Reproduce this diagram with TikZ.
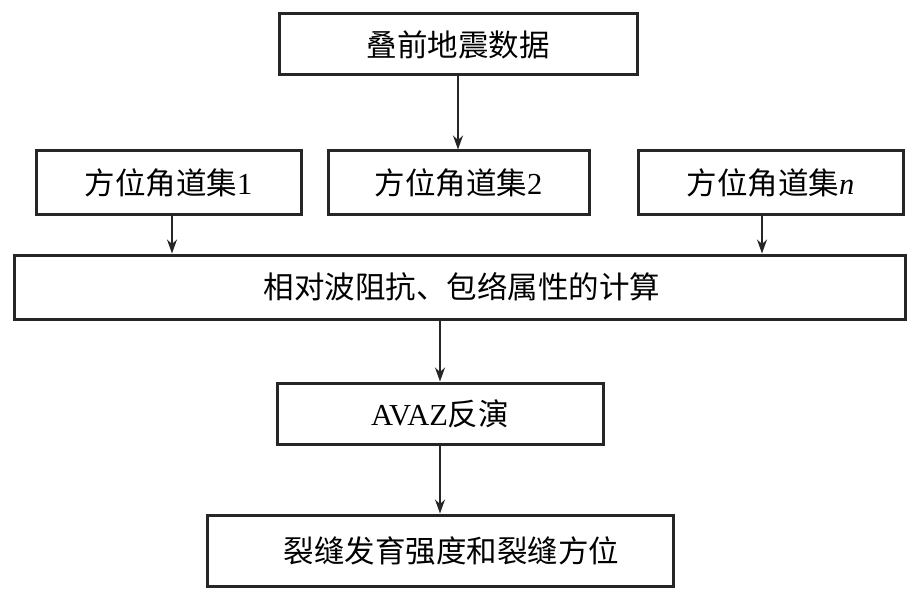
\documentclass[tikz,border=0pt]{standalone}
\usepackage{fontspec}
\setmainfont{Liberation Serif}
\newfontfamily\cjk{Noto Sans CJK SC}
\usetikzlibrary{arrows.meta}
\begin{document}
\begin{tikzpicture}[x=1pt,y=-1pt,
  box/.style={draw=black!85,line width=3pt,inner sep=0pt,fill=white,font=\fontsize{30.5}{32}\selectfont},
  arr/.style={draw=black!85,line width=1.7pt,-{Stealth[length=14pt,width=10pt]}}]
\useasboundingbox (0,0) rectangle (921,607);
\node[box,minimum width=358pt,minimum height=61pt] (b1) at (458,44.5) {\cjk 叠前地震数据};
\node[box,minimum width=265pt,minimum height=63pt] (b2a) at (168.5,182.5) {{\cjk 方位角道集}1};
\node[box,minimum width=261pt,minimum height=63pt] (b2b) at (458.5,182.5) {{\cjk 方位角道集}2};
\node[box,minimum width=265pt,minimum height=63pt] (b2c) at (770.5,182.5) {{\cjk 方位角道集}\textit{n}};
\node[box,minimum width=891pt,minimum height=64pt] (b3) at (459.5,287) {\hspace*{5pt}\cjk 相对波阻抗、包络属性的计算};
\node[box,minimum width=326pt,minimum height=61pt] (b4) at (440,413.5) {AVAZ{\cjk 反演}};
\node[box,minimum width=466pt,minimum height=71pt] (b5) at (440,550.5) {\hspace*{23pt}\cjk 裂缝发育强度和裂缝方位};
\draw[arr] (b1.south) -- (b1.south |- b2b.north);
\draw[arr] ([xshift=3.5pt]b2a.south) -- ([xshift=3.5pt]b2a.south |- b3.north);
\draw[arr] ([xshift=-8.5pt]b2c.south) -- ([xshift=-8.5pt]b2c.south |- b3.north);
\draw[arr] (b4.north |- b3.south) -- (b4.north);
\draw[arr] (b4.south) -- (b5.north);
\end{tikzpicture}
\end{document}
